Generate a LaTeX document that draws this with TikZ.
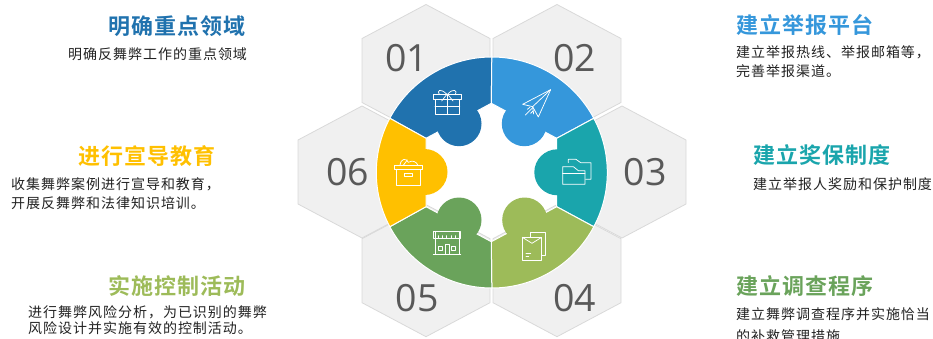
\documentclass[tikz,border=0pt]{standalone}
\usepackage{fontspec}
\setmainfont{Open Sans}
\newfontfamily\cjkbody[LetterSpace=7]{Noto Sans CJK SC}
\newfontfamily\cjkhead[LetterSpace=5]{Noto Sans CJK SC Bold}
\newfontfamily\numfont{Open Sans}
\definecolor{cA}{HTML}{2072AE}
\definecolor{cB}{HTML}{3597DB}
\definecolor{cC}{HTML}{1AA5AC}
\definecolor{cD}{HTML}{9DBB59}
\definecolor{cE}{HTML}{6AA35B}
\definecolor{cF}{HTML}{FFC000}
\definecolor{hexfill}{HTML}{F0F0F0}
\definecolor{hexline}{HTML}{D9D9D9}
\definecolor{numgrey}{HTML}{595959}
\definecolor{bodyink}{HTML}{222222}
\tikzset{
  x=1pt,y=1pt,
  hexcell/.style={fill=hexfill,draw=hexline,line width=0.8pt,line join=miter},
  numlab/.style={font=\numfont\fontsize{37.5}{40}\selectfont,text=numgrey,inner sep=0pt,anchor=center},
  headlab/.style={font=\cjkhead\fontsize{22}{24}\selectfont,inner sep=0pt,anchor=west},
  bodylab/.style={font=\cjkbody\fontsize{14}{16}\selectfont,text=bodyink,inner sep=0pt,anchor=west},
  sector/.style={draw=white,line width=1pt},
  icon/.style={draw=white,line width=0.75pt,fill=none,line join=round,line cap=round},
}
\newcommand{\hexcellat}[2]{\draw[hexcell] (#1,#2+66) -- (#1+64,#2+32) -- (#1+64,#2-32) -- (#1,#2-66) -- (#1-64,#2-32) -- (#1-64,#2+32) -- cycle;}
\begin{document}
\begin{tikzpicture}
\useasboundingbox (0,0) rectangle (933,338);
\clip (0,0) rectangle (933,338);
% hexagons
\hexcellat{426}{267.5}
\hexcellat{557}{267.5}
\hexcellat{622}{166}
\hexcellat{557}{67.3}
\hexcellat{426}{67.3}
\hexcellat{362}{166}
% sectors
\coordinate (C) at (491.8,165.5);
\def\Rout{115.5pt}
\coordinate (vT) at (491.3,234.7);
\coordinate (vUR) at (556.7,199.7);
\coordinate (vLR) at (556.7,131.3);
\coordinate (vB) at (491.3,96.3);
\coordinate (vLL) at (426,131.3);
\coordinate (vUL) at (426,199.7);
\fill[sector,fill=cA] (C)++(152:\Rout) arc[start angle=152,end angle=90,radius=\Rout] -- (vT) -- (vUL) -- cycle;
\fill[sector,fill=cB] (C)++(90:\Rout) arc[start angle=90,end angle=28,radius=\Rout] -- (vUR) -- (vT) -- cycle;
\fill[sector,fill=cC] (C)++(28:\Rout) arc[start angle=28,end angle=-28,radius=\Rout] -- (vLR) -- (vUR) -- cycle;
\fill[sector,fill=cD] (C)++(-28:\Rout) arc[start angle=-28,end angle=-90,radius=\Rout] -- (vB) -- (vLR) -- cycle;
\fill[sector,fill=cE] (C)++(-90:\Rout) arc[start angle=-90,end angle=-152,radius=\Rout] -- (vLL) -- (vB) -- cycle;
\fill[sector,fill=cF] (C)++(208:\Rout) arc[start angle=208,end angle=152,radius=\Rout] -- (vUL) -- (vLL) -- cycle;
\fill[cA] (459,214.3) circle[radius=22.5pt];
\fill[cB] (524.3,214.3) circle[radius=22.5pt];
\fill[cC] (557.3,165.7) circle[radius=23pt];
\fill[cD] (524.7,118) circle[radius=22.5pt];
\fill[cE] (459,118) circle[radius=22.5pt];
\fill[cF] (424.5,166) circle[radius=23pt];
% numbers
\node[numlab] (n1) at (406.5,279.5) {01};
\node[numlab] (n2) at (574.5,279.5) {02};
\node[numlab] (n3) at (645,165.5) {03};
\node[numlab] (n4) at (574.5,40) {04};
\node[numlab] (n5) at (417,40) {05};
\node[numlab] (n6) at (347.5,165.5) {06};
% icons, drawn in 3x crop coordinates of the centre
\begin{scope}[x=0.3333pt,y=-0.3333pt,shift={(290pt,338pt)},icon]
 % gift
 \draw (430,284) rectangle (513,297);
 \draw (435,297) rectangle (509,344);
 \draw (472,284) -- (472,344) (435,318) -- (509,318);
 \draw (472,284) .. controls (450,262) and (440,272) .. (448,284);
 \draw (472,284) .. controls (490,262) and (504,272) .. (496,284);
 \draw (470,284) -- (455,303) (474,284) -- (489,303);
 % plane
 \draw (782,269) -- (698,313) -- (728,320) -- (745,351) -- cycle;
 \draw (782,269) -- (728,320) -- (731,342);
 \draw (706,345) -- (728,323) (712,328) -- (720,322) (722,340) -- (729,333);
 % folders
 \draw (818,500) -- (818,553) -- (885,553) -- (885,512) -- (865,512) -- (850,500) -- cycle;
 \draw (818,520) -- (885,520);
 \draw (835,488) -- (835,478) -- (858,478) -- (872,488) -- (903,488) -- (903,538) -- (887,538);
 % envelopes
 \draw (697,712) -- (755,712) -- (755,780) -- (697,780) -- cycle;
 \draw (697,712) -- (726,730) -- (755,712);
 \draw (722,697) -- (766,697) -- (766,765) -- (755,765);
 \draw (722,697) -- (722,712);
 \draw (708,760) -- (722,760) (708,770) -- (716,770);
 % shop
 \draw (430,762) -- (512,762);
 \draw (436,695) rectangle (507,762);
 \draw (431,695) -- (511,695) -- (511,715) -- (431,715) -- cycle;
 \foreach \i in {444,457,470,483,496} \draw (\i,707) -- (\i,715);
 \draw (445,738) rectangle (458,750) (484,738) rectangle (497,750);
 \draw (465,733) rectangle (477,762);
 % box
 \draw (313,496) rectangle (397,509);
 \draw (320,509) rectangle (390,556);
 \draw (343,521) rectangle (368,530);
 \draw (330,496) .. controls (333,475) and (348,473) .. (355,487) .. controls (368,480) and (378,484) .. (384,496);
 \draw (340,496) -- (352,480);
\end{scope}
% left column
\node[headlab,text=cA] (t1) at (108,312) {明确重点领域};
\node[bodylab] (b1) at (68,284) {明确反舞弊工作的重点领域};
\node[headlab,text=cF] (t6) at (78,182) {进行宣导教育};
\node[bodylab] (b6a) at (11,154) {收集舞弊案例进行宣导和教育，};
\node[bodylab] (b6b) at (11,135) {开展反舞弊和法律知识培训。};
\node[headlab,text=cD] (t5) at (108,52) {实施控制活动};
\node[bodylab] (b5a) at (28,26) {进行舞弊风险分析，为已识别的舞弊};
\node[bodylab] (b5b) at (28,10) {风险设计并实施有效的控制活动。};
% right column
\node[headlab,text=cB] (t2) at (736,313) {建立举报平台};
\node[bodylab] (b2a) at (736,286) {建立举报热线、举报邮箱等，};
\node[bodylab] (b2b) at (736,267) {完善举报渠道。};
\node[headlab,text=cC] (t3) at (753,183) {建立奖保制度};
\node[bodylab] (b3) at (753,154) {建立举报人奖励和保护制度};
\node[headlab,text=cE] (t4) at (736,52) {建立调查程序};
\node[bodylab] (b4a) at (736,24) {建立舞弊调查程序并实施恰当};
\node[bodylab] (b4b) at (736,2) {的补救管理措施};
\end{tikzpicture}
\end{document}
